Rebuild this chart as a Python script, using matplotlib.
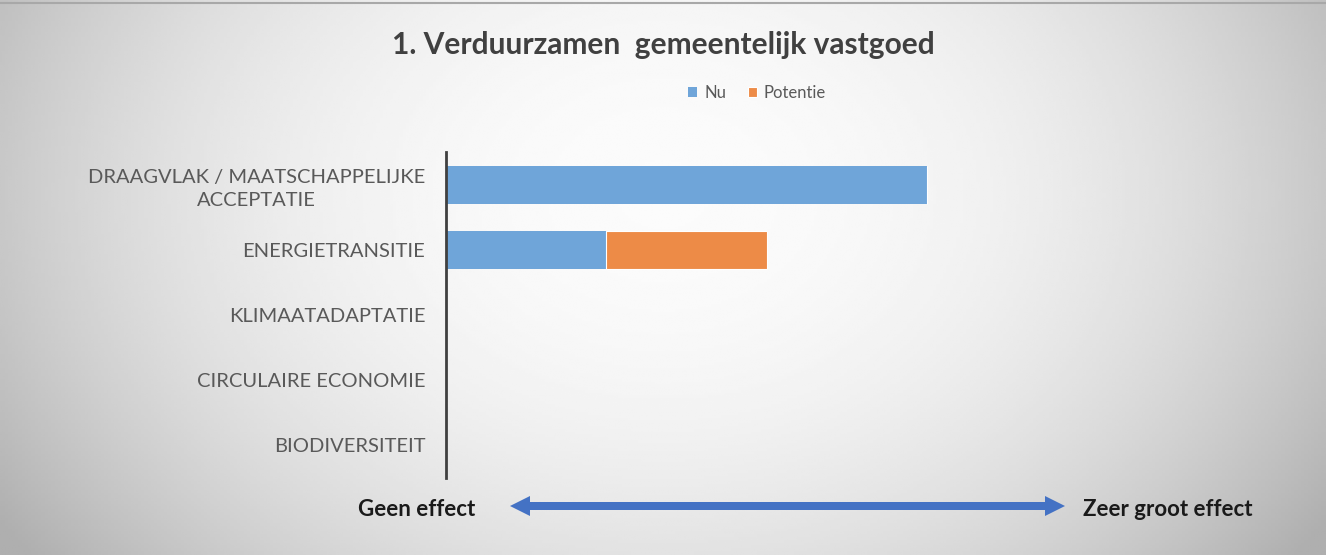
import numpy as np
import matplotlib.pyplot as plt
from matplotlib.patches import Polygon

plt.rcParams['font.family'] = ['Lato', 'DejaVu Sans']

categories = ['DRAAGVLAK / MAATSCHAPPELIJKE\nACCEPTATIE', 'ENERGIETRANSITIE',
              'KLIMAATADAPTATIE', 'CIRCULAIRE ECONOMIE', 'BIODIVERSITEIT']
nu = [3, 1, 0, 0, 0]
potentie = [0, 1, 0, 0, 0]

BLUE = '#6fa5d9'
ORANGE = '#ed8b47'
TEXT = '#595959'
W, H = 1326, 555

fig = plt.figure(figsize=(W / 100, H / 100), dpi=100)

# soft grey background, lighter in the middle
bg = fig.add_axes([0, 0, 1, 1], zorder=-10)
xx, yy = np.meshgrid(np.linspace(-1, 1, 400), np.linspace(-1, 1, 200))
r = np.sqrt(xx ** 2 + ((yy + 0.3) / 1.8) ** 2)
shade = 0.985 - 0.2 * np.clip(r, 0, 1.2) ** 2.2
bg.imshow(shade, cmap='gray', vmin=0, vmax=1, aspect='auto',
          extent=[0, 1, 0, 1], interpolation='bilinear')
bg.plot([0, 1], [0.995, 0.995], color='#a8a8a8', lw=1.5)
bg.set_xlim(0, 1)
bg.set_ylim(0, 1)
bg.axis('off')

ax = fig.add_axes([446 / W, 77 / H, 641 / W, 326 / H])
ax.patch.set_alpha(0)
y = np.arange(len(categories))
ax.barh(y, nu, height=0.58, color=BLUE, label='Nu')
ax.barh(y, potentie, left=nu, height=0.58, color=ORANGE, label='Potentie',
        edgecolor='white', linewidth=0.8)
ax.set_xlim(0, 4)
ax.set_ylim(len(categories) - 0.5, -0.5)
ax.set_yticks(y)
ax.set_yticklabels(categories, fontsize=14.5, color=TEXT, ha='right',
                   multialignment='center', linespacing=1.45)
ax.tick_params(axis='y', length=0, pad=15)
ax.set_xticks([])
for s in ['top', 'right', 'bottom']:
    ax.spines[s].set_visible(False)
ax.spines['left'].set_color('#404040')
ax.spines['left'].set_linewidth(2)

fig.text(0.5, 1 - 45 / H, '1. Verduurzamen  gemeentelijk vastgoed',
         ha='center', va='center', fontsize=21.5, fontweight='bold', color='#404040')

fig.legend(loc='center', bbox_to_anchor=(757 / W, 1 - 93 / H), ncol=2,
           frameon=False, fontsize=12, labelcolor=TEXT, handlelength=0.55,
           handleheight=0.55, handletextpad=0.4, columnspacing=1.3)

# double-headed effect arrow, built in pixel units
x0, x1, ya = 510, 1065, 506
shaft, head_w, head_l = 4, 10, 20
pts = [(x0, ya), (x0 + head_l, ya - head_w), (x0 + head_l, ya - shaft),
       (x1 - head_l, ya - shaft), (x1 - head_l, ya - head_w), (x1, ya),
       (x1 - head_l, ya + head_w), (x1 - head_l, ya + shaft),
       (x0 + head_l, ya + shaft), (x0 + head_l, ya + head_w)]
pts = [(px / W, 1 - py / H) for px, py in pts]
fig.add_artist(Polygon(pts, closed=True, transform=fig.transFigure,
                       facecolor='#4472c4', edgecolor='none'))
fig.text(417 / W, 1 - 509 / H, 'Geen effect', ha='center', va='center',
         fontsize=16, fontweight='bold', color='#1a1a1a')
fig.text(1168 / W, 1 - 509 / H, 'Zeer groot effect', ha='center', va='center',
         fontsize=16, fontweight='bold', color='#1a1a1a')

fig.savefig('out.png', dpi=100)
